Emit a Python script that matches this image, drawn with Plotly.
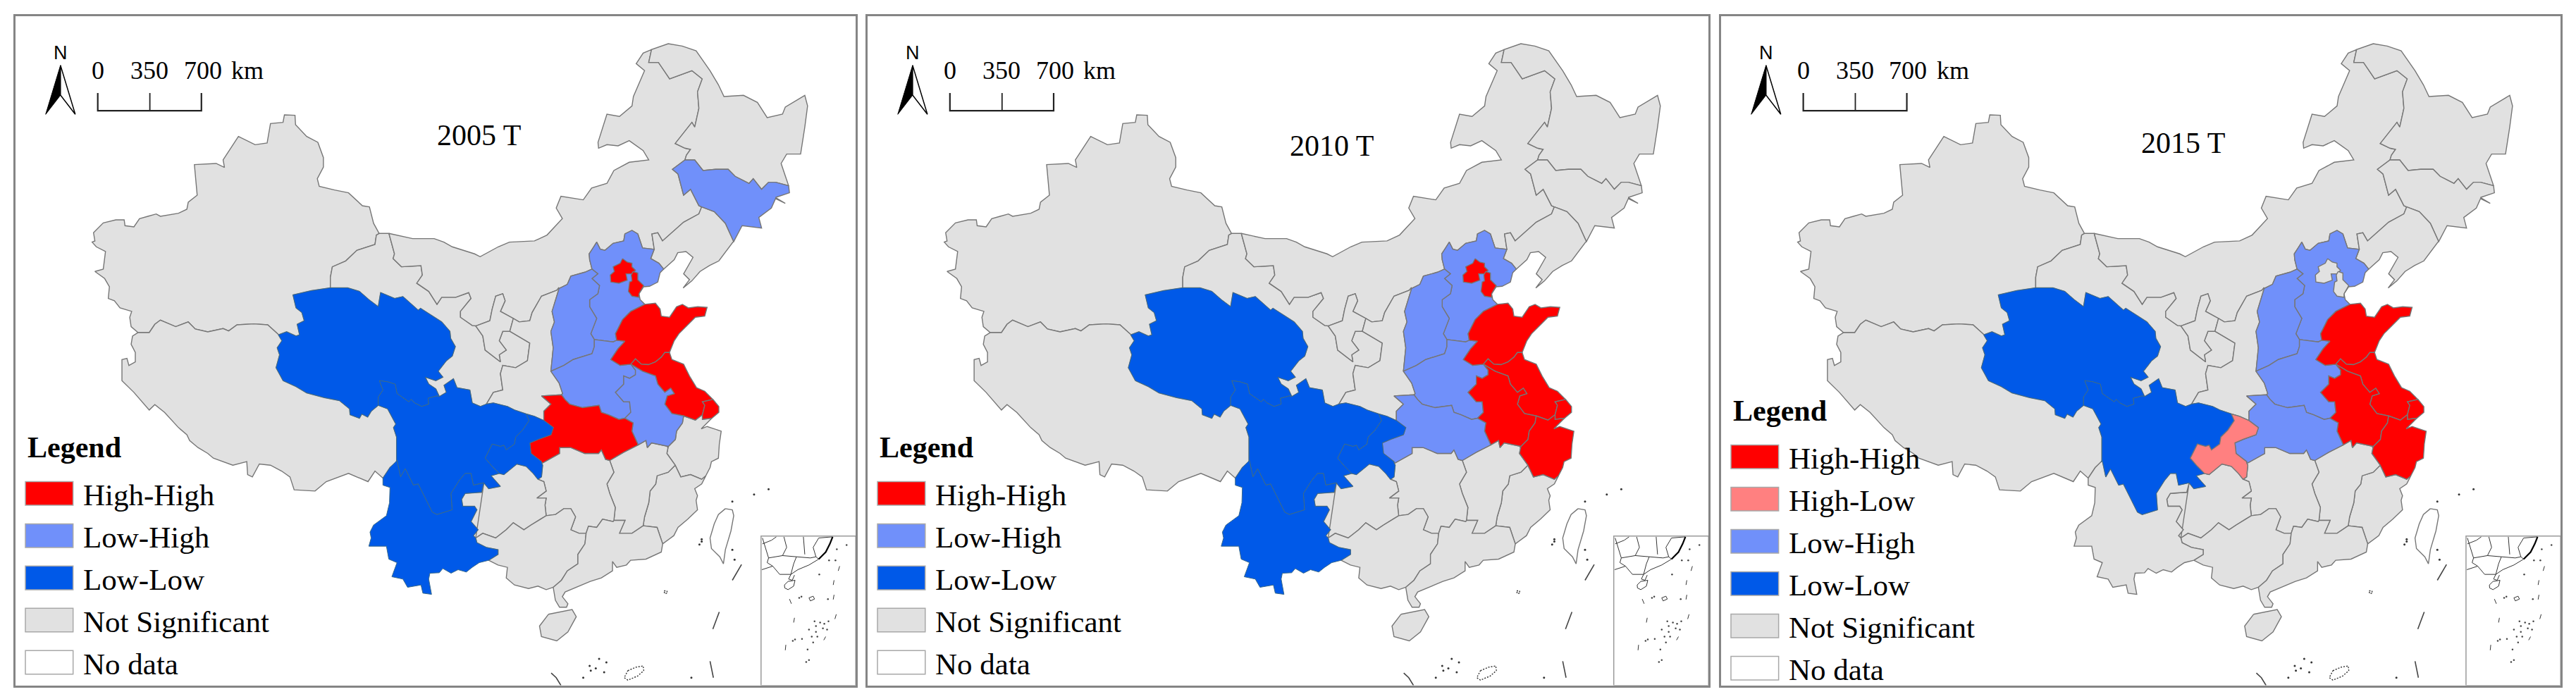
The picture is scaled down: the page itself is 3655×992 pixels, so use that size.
import sys
import plotly.graph_objects as go

W, H = 3655, 992
PANELS = [(22, 1214), (1231, 2424), (2442, 3633)]
TOP, BOTTOM = 22.5, 972.5
YEARS = ["2005 T", "2010 T", "2015 T"]
TITLE_Z = [(873, 303), (873, 326), (871, 321)]
COL = {"HH": "#FF0000", "HL": "#FF8080", "LH": "#7090FA", "LL": "#0059E8", "NS": "#E1E1E1", "ND": "#FFFFFF"}
NAMES = {"HH": "High-High", "HL": "High-Low", "LH": "Low-High", "LL": "Low-Low", "NS": "Not Significant", "ND": "No data"}
EDGE = "#767676"
EDGE_LL = "#3A6A8A"

HH_2005 = ["Beijing", "Tianjin", "Shandong", "Jiangsu", "Shanghai", "Hubei"]
LH_2005 = ["Jilin", "Hebei", "Shanxi", "Henan", "Anhui"]
LL_2005 = ["Qinghai", "Sichuan", "Chongqing", "Yunnan"]
HH_2010 = ["Beijing", "Tianjin", "Shandong", "Jiangsu", "Shanghai", "Anhui", "Zhejiang"]
LH_2010 = ["Hebei", "Shanxi", "Henan", "Hubei"]
LL_2010 = ["Qinghai", "Sichuan", "Chongqing", "Yunnan"]
HH_2015 = ["Shandong", "Jiangsu", "Shanghai", "Anhui", "Zhejiang"]
HL_2015 = ["Chongqing"]
LH_2015 = ["Hebei", "Shanxi", "Henan", "Hubei"]
LL_2015 = ["Qinghai", "Sichuan"]


def _c(ax, bx, ay, by):
    return lambda pts: [(ax + bx * x, ay + by * y) for x, y in pts]


z4 = _c(771.1, .5082, 79.0, .5269)
z5 = _c(771.1, .5082, 790.3, .5269)
z6 = _c(0, .5082, 205.5, .5269)
z7 = _c(0, .5082, 790.3, .5269)
z8 = _c(475.3, .4284, 600.6, .5269)
z9 = _c(616.6, .4284, 980.0, .5269)
z10 = _c(937.9, .4284, 490.0, .5269)

XJ_N = z6([(1360,603),(1340,560),(1325,490),(1300,485),(1250,430),(1200,418),(1145,402),(1138,370),(1160,320),(1160,280),(1140,215),(1100,190),(1060,140),(1058,100),(1020,98),(1015,130),(970,135),(958,218),(915,225),(855,190),(800,290),(805,322),(775,305),(697,310),(707,440),(675,470),(670,500),(640,517),(575,530),(560,520),(530,530),(500,540),(480,575),(448,570),(445,545),(415,545),(370,558),(335,600),(340,635),(330,640),(345,660),(378,680),(370,755),(340,765),(375,795),(392,830),(388,880),(410,890),(430,920),(472,935),(465,960),(470,1000),(495,1025)])
XJ_TB = z6([(495,1025),(535,1025),(555,990),(575,972),(630,1000),(675,980),(700,1010),(745,1022),(800,1008),(820,1018),(850,992),(910,988),(960,992),(1000,1035)])
QH_XJ = z8([(75,285),(110,272),(150,290),(165,285),(155,240),(185,225),(175,190),(150,170),(137,115)])
QH_XJ2 = z8([(137,115),(215,97),(295,85)])
XJ_GS = z6([(1185,838),(1185,790),(1192,745),(1240,720),(1280,675),(1345,650),(1350,610),(1360,603)])
QH_TB = z8([(75,285),(90,310),(70,340),(80,370),(65,425),(95,480),(150,505),(195,532),(270,552),(335,565),(378,600),(380,625),(420,640),(430,622),(455,635),(470,610),(500,585)])
SC_TB = z8([(500,585),(540,600),(575,665),(565,680),(578,720),(578,825)])
TB_YN = z9([(245,105),(220,130),(190,175)])
TB_OUT = z6([(495,1025),(475,1040),(470,1075),(485,1110),(485,1150),(462,1165),(455,1135),(437,1140)]) + z7([(437,120),(480,170),(535,245),(555,222),(590,255),(640,320),(670,350),(680,375),(710,405),(745,430),(765,450),(800,465),(835,480),(885,465),(888,520),(905,530),(930,475),(970,480),(1010,505),(1040,530),(1055,585),(1130,590),(1170,550),(1250,515),(1300,540),(1320,550),(1345,505)]) + z9([(190,175)])
QH_GS = z8([(295,85),(370,85),(420,100),(460,135),(500,165),(510,105),(570,130),(605,122),(670,180),(680,172),(770,230),(805,270),(808,300),(828,335),(815,375),(790,395),(755,440),(775,465),(745,480),(700,465),(715,495),(745,515),(760,548)])
QH_SC = z8([(760,548),(750,545),(712,555),(715,580),(685,590),(655,575),(640,560),(630,570),(580,535),(572,495),(540,485),(505,480),(520,520),(500,550),(500,585)])
SC_GS = z8([(760,548),(790,530),(780,500),(820,472),(835,510),(890,520),(900,575),(935,590),(960,580)])
SC_SN = z8([(960,580),(990,575),(1050,590),(1080,605),(1130,622)])
SC_CQ = z8([(1130,622),(1142,650),(1115,690),(1085,720),(1080,750),(1045,775),(1035,755),(1020,760),(985,750),(955,810),(985,845),(1015,875)])
SC_YN = z9([(245,105),(250,100),(265,170),(285,135),(320,205),(340,200),(400,320),(420,330),(460,318),(485,310),(480,240),(515,185),(540,155),(565,155),(575,205),(620,195)])
SC_GZ = z9([(620,195),(640,220),(690,210),(650,165),(685,155)])
CQ_GZ = z9([(685,155),(705,160),(760,115),(800,125),(830,155),(850,180)])
CQ_HN = z9([(850,180),(865,170),(870,120),(865,110)])
HB_CQ = z8([(1205,650),(1245,680),(1235,710),(1180,730),(1145,745),(1150,790),(1195,825),(1195,830)])
CQ_SN = z8([(1130,622),(1165,632),(1205,650)])
GS_SN = z8([(960,580),(990,530),(1030,520),(1020,450),(1030,415),(1085,425),(1135,395),(1145,320),(1060,270)])
NX_SN = z8([(1060,270),(1075,215)])
SN_IM = z8([(1075,215),(1100,230),(1145,225),(1155,190),(1195,120),(1260,95),(1268,85)])
SX_SN = z10([(190,297),(160,395),(170,440),(155,480),(165,550),(155,650)])
SN_HEN = z10([(155,650),(190,700),(205,745),(200,750)])
SN_HB = z10([(200,750),(115,755),(155,790),(125,820),(125,860)])
NX_GS = z8([(915,247),(945,290),(955,350),(1020,400),(1015,370),(1045,350),(1015,310),(1030,270),(1060,270)])
NX_IM = z8([(915,247),(975,225),(985,175),(1000,120),(1030,110),(1040,140),(1020,185),(1075,215)])
GS_N = z6([(1360,603),(1395,603)])
GS_IM = z6([(1395,603),(1415,690),(1410,710),(1440,745),(1510,740),(1515,780),(1495,815)]) + z8([(715,100),(750,155),(770,125),(830,125),(885,105),(895,130),(850,185),(850,210),(900,245),(915,247)])
SX_IM = z10([(190,297),(225,280),(240,245),(300,228),(330,215)])
HE_IM = z10([(330,215),(320,175),(318,150),(335,125),(350,100),(365,130),(385,135),(420,105),(465,95),(470,65),(500,50),(525,65),(545,125),(590,130),(595,130)])
LN_IM = z10([(595,130),(585,65),(610,60),(630,95),(720,15)]) + z4([(990,760),(1000,730)])
JL_IM = z4([(1000,730),(990,725),(960,655),(935,680),(915,590),(895,570),(940,530)])
HLJ_IM = z4([(940,530),(945,510),(960,485),(940,480),(905,460),(965,370),(975,390),(990,310),(985,240),(1002,185),(965,150),(885,185),(845,115),(810,115),(820,60)])
IM_N = z4([(820,60),(790,75),(765,120),(795,150),(755,260),(750,300),(705,345),(660,335),(628,455),(630,480),(660,465),(700,470),(740,448),(790,490),(810,530),(740,540),(685,575),(660,630),(605,650),(575,700),(495,685),(478,735),(500,780),(445,850),(400,875),(310,880),(270,900),(205,942),(185,930),(105,900),(75,880),(40,865)]) + z6([(1480,625),(1395,603)])
HLJ_OUT = z4([(820,60),(880,35),(930,45),(980,65),(1030,150),(1060,210),(1080,260),(1150,255),(1200,285),(1235,350),(1290,335),(1300,305),(1370,255),(1380,300),(1370,390),(1355,505),(1305,505),(1285,545),(1312,640)])
JL_HLJ = z4([(1312,640),(1265,625),(1240,625),(1215,655),(1185,610),(1170,630),(1120,600),(1095,570),(1050,570),(1005,575),(975,530),(940,530)])
JL_OUT = z4([(1312,640),(1315,670),(1265,690),(1300,715),(1265,695),(1250,735),(1205,775),(1215,820),(1145,810),(1115,878)])
LN_JL = z4([(1000,730),(1045,750),(1085,800),(1115,878)])
LN_COAST = z10([(930,100),(870,180),(830,200),(790,225),(755,265),(718,295),(745,260),(720,235),(760,165),(730,140),(695,145),(680,175),(635,215)])
LN_HE = z10([(595,130),(580,170),(615,190),(635,215)])
HE_COAST = z10([(635,215),(620,230),(610,270),(575,288),(550,290),(530,320),(535,345),(555,365)])
SD_HE = z10([(555,365),(495,395),(460,430),(430,490),(435,518)])
HE_HEN = z10([(435,518),(420,525),(340,515)])
SX_HE = z10([(340,515),(325,490),(350,425),(320,375),(320,345),(355,320),(362,285),(330,255),(355,235),(330,215)])
SX_HEN = z10([(340,515),(340,545),(330,575),(250,600),(210,625),(155,650)])
HEN_SD = z10([(435,518),(470,522),(440,555),(410,600),(450,625),(495,620)])
HEN_AH = z10([(495,620),(515,645),(515,665),(490,680),(465,670),(465,705),(430,740),(465,780),(490,780),(495,825),(470,850)])
HEN_HB = z10([(470,850),(445,855),(400,835),(370,825),(360,795),(290,805),(235,790),(215,770),(200,750)])
SD_COAST = z10([(555,365),(600,360),(620,385),(625,415),(660,420),(690,375),(715,365),(740,380),(780,375),(820,378),(810,415),(770,420),(740,450),(700,490),(680,520),(660,570)])
SD_JS = z10([(660,570),(640,570),(625,590),(600,610),(570,622),(540,620),(515,597),(495,620)])
JS_COAST = z10([(660,570),(670,600),(720,620),(745,670),(775,720),(810,735),(845,770)])
SH_JS = z10([(845,770),(800,780),(810,795),(800,835)])
JS_ZJ = z10([(800,835),(770,858),(720,840)])
JS_AH = z10([(720,840),(670,830),(640,790),(650,755),(680,745),(665,722),(640,740),(610,705),(600,670),(545,650),(495,620)])
SH_OUT = z10([(845,770),(870,800),(870,825),(840,850),(800,855),(800,835)])
AH_ZJ = z10([(720,840),(715,870),(690,905),(685,940),(650,975)])
AH_JX = z5([(880,400),(820,385),(805,405),(800,375),(770,395)])
AH_HB = z10([(525,960),(500,905),(505,870),(470,850)])
ZJ_COAST = z10([(800,835),(800,855),(840,850),(795,895),(820,885),(880,905),(872,960)]) + z5([(1060,450),(1035,465),(1030,490),(1015,525)])
FJ_ZJ = z5([(1015,525),(1000,540),(960,520),(925,530),(905,480)])
JX_ZJ = z5([(905,480),(875,430),(880,400)])
FJ_COAST = z5([(1015,525),(1000,560),(975,580),(985,610),(980,630),(985,670),(950,710),(915,745),(900,780),(860,815)])
FJ_GD = z5([(860,815),(840,745),(790,738)])
FJ_JX = z5([(790,738),(795,700),(810,640),(815,590),(835,560),(840,525),(880,510),(905,480)])
JX_GD = z5([(790,738),(750,770),(705,770),(725,715),(685,715)])
HN_JX = z5([(685,715),(690,660),(670,600),(660,560),(685,510),(670,460)])
JX_HB = z5([(670,460),(720,425),(770,395)])
HN_HB = z5([(670,460),(655,455),(640,415),(630,430),(580,430),(530,405),(490,405),(490,430),(430,470)])
HN_GZ = z9([(850,180),(875,190),(885,230),(845,260),(885,260),(880,290),(885,335)])
HN_GX = z9([(885,335),(925,330),(960,305),(990,305),(1010,340),(990,395),(1025,410),(1055,410)])
HN_GD = z9([(1055,410),(1065,380),(1100,385),(1125,350),(1170,360)])
GZ_GX = z9([(885,335),(860,350),(820,375),(790,395),(745,365),(715,395),(670,430),(615,410),(585,430)])
GZ_YN = z9([(585,430),(575,420),(595,395),(565,360),(590,310),(580,295),(530,295),(525,265),(540,240),(610,235),(620,195)])
GX_GD = z9([(1055,410),(1050,455),(1020,500),(1020,540),(975,570),(950,610),(915,640)])
GX_OUT = z9([(915,640),(885,650),(850,635),(810,645),(750,630),(715,600),(720,555),(680,545),(640,525)])
GX_YN = z9([(640,525),(680,500),(680,480),(630,470),(590,450),(585,430)])
YN_OUT = z9([(190,175),(190,205),(220,215),(218,280),(205,335),(150,375),(135,405),(140,430),(130,465),(205,465),(215,520),(250,535),(228,595),(275,605),(295,640),(352,630),(360,665),(397,670),(385,605),(390,580),(430,578),(445,560),(480,580),(510,565),(545,575),(570,555),(600,535),(640,525)])
GD_COAST = z5([(860,815),(855,850),(800,880),(745,885),(730,905),(695,915),(680,890),(680,930),(640,960),(600,975),(560,995),(510,1020),(500,1040),(520,1070),(515,1085),(490,1085),(475,1055),(470,1010)])
BEIJING_RING = z10([(460,170),(480,185),(500,190),(500,205),(515,220),(500,235),(475,235),(480,262),(445,275),(410,270),(408,240),(425,225),(420,205),(450,190),(460,170)])
TIANJIN_RING = z10([(505,225),(525,232),(525,260),(550,285),(530,320),(530,335),(500,330),(485,310),(490,270),(500,265),(497,240),(505,225)])
HAINAN_RING = z5([(450,1115),(490,1105),(535,1095),(550,1125),(520,1190),(480,1228),(425,1210),(418,1165),(450,1115)])
TAIWAN_RING = z5([(1085,665),(1110,670),(1115,695),(1105,760),(1085,840),(1078,900),(1065,870),(1035,835),(1030,790),(1045,730),(1060,690),(1085,665)])

PROVINCES = {
    "Xinjiang": [XJ_N, XJ_TB, QH_XJ, QH_XJ2, XJ_GS],
    "Tibet": [TB_OUT, TB_YN[::-1], SC_TB[::-1], QH_TB[::-1], XJ_TB[::-1]],
    "Gansu": [GS_N, GS_IM, NX_GS, GS_SN[::-1], SC_GS[::-1], QH_GS[::-1], XJ_GS],
    "Inner Mongolia": [GS_IM, NX_IM, SN_IM, SX_IM, HE_IM, LN_IM, JL_IM, HLJ_IM, IM_N],
    "Ningxia": [NX_IM, NX_SN[::-1], NX_GS[::-1]],
    "Shaanxi": [SN_IM, SX_SN, SN_HEN, SN_HB, CQ_SN[::-1], SC_SN[::-1], GS_SN, NX_SN],
    "Heilongjiang": [HLJ_IM, HLJ_OUT, JL_HLJ],
    "Jilin": [JL_IM, JL_HLJ[::-1], JL_OUT, LN_JL[::-1]],
    "Liaoning": [LN_JL, LN_COAST, LN_HE[::-1], LN_IM],
    "Hebei": [HE_IM, LN_HE, HE_COAST, SD_HE, HE_HEN, SX_HE],
    "Shanxi": [SX_IM, SX_HE[::-1], SX_HEN, SX_SN[::-1]],
    "Henan": [HE_HEN[::-1], HEN_SD, HEN_AH, HEN_HB, SN_HEN[::-1], SX_HEN[::-1]],
    "Shandong": [SD_HE[::-1], SD_COAST, SD_JS, HEN_SD[::-1]],
    "Jiangsu": [SD_JS[::-1], JS_COAST, SH_JS, JS_ZJ, JS_AH],
    "Shanghai": [SH_JS[::-1], SH_OUT],
    "Anhui": [JS_AH[::-1], AH_ZJ, AH_JX, AH_HB, HEN_AH[::-1]],
    "Zhejiang": [JS_ZJ[::-1], ZJ_COAST, FJ_ZJ, JX_ZJ, AH_ZJ[::-1]],
    "Fujian": [FJ_ZJ[::-1], FJ_COAST, FJ_GD, FJ_JX],
    "Jiangxi": [FJ_JX[::-1], JX_GD, HN_JX, JX_HB, AH_JX[::-1], JX_ZJ[::-1]],
    "Hubei": [HEN_HB[::-1], AH_HB[::-1], JX_HB[::-1], HN_HB, HB_CQ[::-1], SN_HB[::-1]],
    "Hunan": [HN_JX, HN_HB, CQ_HN[::-1], HN_GZ, HN_GX, HN_GD],
    "Qinghai": [QH_XJ, QH_XJ2, QH_GS, QH_SC, QH_TB[::-1]],
    "Sichuan": [SC_TB, SC_YN, SC_GZ, SC_CQ[::-1], SC_SN[::-1], SC_GS[::-1], QH_SC],
    "Chongqing": [SC_CQ, CQ_GZ, CQ_HN, HB_CQ[::-1], CQ_SN[::-1]],
    "Guizhou": [SC_GZ, CQ_GZ, HN_GZ, GZ_GX, GZ_YN[::-1]],
    "Guangxi": [GZ_GX[::-1], HN_GX, GX_GD, GX_OUT, GX_YN],
    "Yunnan": [TB_YN, YN_OUT, GX_YN, GZ_YN, SC_YN[::-1]],
    "Guangdong": [HN_GD, JX_GD[::-1], FJ_GD[::-1], GD_COAST, GX_GD[::-1]],
    "Beijing": [BEIJING_RING],
    "Tianjin": [TIANJIN_RING],
    "Hainan": [HAINAN_RING],
}
DRAW_LAST = ["Beijing", "Tianjin"]

NINE_DASH = [z5([(1143,903),(1110,970)]), z5([(1063,1105),(1040,1178)]), z5([(1030,1315),(1042,1385)]), z5([(460,1365),(478,1385),(495,1418)])]
ISLE_RINGS = [z5([(735,1355),(765,1340),(790,1335),(792,1355),(770,1378),(735,1395),(722,1385),(735,1355)]),
              z5([(865,1015),(875,1015),(877,1025),(867,1027),(865,1015)])]
SEA_DOTS = z5([(598,1335),(602,1355),(620,1345),(650,1362),(632,1305),(658,1320),(575,1385),(963,1385),(1000,795),(1000,805),(992,818),(1110,840),(1118,882),(1188,605),(1240,582),(1110,635)])
INSET_BOX = z5([(1213,782),(1553,1418)])
INSET_COAST = z5([(1470,785),(1460,815),(1445,850),(1420,880)])
INSET_LINES = [z5([(1218,790),(1228,830),(1240,875),(1290,865),(1305,830),(1295,785)]),
               z5([(1218,815),(1250,800),(1268,785)]),
               z5([(1240,875),(1235,895),(1255,910),(1216,925)]),
               z5([(1255,910),(1280,945),(1320,945),(1345,925),(1385,905),(1420,880)]),
               z5([(1290,865),(1340,870),(1330,900),(1320,945)]),
               z5([(1340,870),(1390,875),(1410,870),(1420,880)]),
               z5([(1365,785),(1370,860)]),
               z5([(1410,870),(1400,830),(1420,790),(1470,785)]),
               z5([(1320,945),(1312,965),(1325,970),(1333,948)]),
               z5([(1297,990),(1310,975),(1335,970),(1330,995),(1310,1010),(1298,1003),(1297,990)]),
               z5([(1385,1045),(1400,1038),(1405,1050),(1390,1058),(1385,1045)]),
               z5([(1475,970),(1472,990)]), z5([(1475,1032),(1472,1052)]), z5([(1315,1050),(1322,1070)]),
               z5([(1333,1130),(1330,1150)]), z5([(1483,1115),(1478,1135)]), z5([(1445,1210),(1438,1225)]),
               z5([(1302,1245),(1300,1268)]), z5([(1495,910),(1490,930)])]
INSET_DOTS = z5([(1457,885),(1422,945),(1350,1045),(1358,1040),(1453,1050),(1405,1145),(1410,1165),(1425,1150),(1440,1155),(1455,1145),(1435,1175),(1450,1180),(1410,1190),(1385,1180),(1395,1210),(1415,1210),(1360,1220),(1335,1222),(1327,1228),(1380,1265),(1385,1310),(1375,1318),(1400,1235),(1485,838),(1520,820),(1480,885)])
BAR_X = [178, 178, 367, 367]
BAR_Y = [208, 248, 248, 208]
BAR_MID = 273
N_ARROW_LEFT = [(110, 146), (83, 256), (110, 213)]
N_ARROW_RIGHT = [(110, 146), (137, 256), (110, 213)]
SCALE_LABELS = [("0", 178, "center"), ("350", 272, "center"), ("700", 332, "left"), ("km", 419, "left")]
LEGEND_ROWS = [["HH", "LH", "LL", "NS", "ND"], ["HH", "LH", "LL", "NS", "ND"], ["HH", "HL", "LH", "LL", "NS", "ND"]]
LEGEND_TOP = [1080, 1080, 998]
TITLE_LEGEND = [1003, 1003, 921]


def ring(name, parts):
    pts = []
    for part in parts:
        if pts:
            g = abs(pts[-1][0] - part[0][0]) + abs(pts[-1][1] - part[0][1])
            if g > 14:
                print("gap", name, round(g), file=sys.stderr)
        pts += part
    return pts


CLASS_BY_YEAR = [
    {"HH": HH_2005, "LH": LH_2005, "LL": LL_2005},
    {"HH": HH_2010, "LH": LH_2010, "LL": LL_2010},
    {"HH": HH_2015, "HL": HL_2015, "LH": LH_2015, "LL": LL_2015},
]

fig = go.Figure()
layout = dict(width=W, height=H, margin=dict(l=0, r=0, t=0, b=0), autosize=False, showlegend=False,
              paper_bgcolor="white", plot_bgcolor="white", annotations=[], shapes=[], hovermode="closest")


def serif(size, bold=False):
    return dict(family="Liberation Serif", size=size, color="black", weight="bold" if bold else "normal")


for p, (x0, x1) in enumerate(PANELS):
    sfx = "" if p == 0 else str(p + 1)
    xa, ya = "x" + sfx, "y" + sfx
    base = dict(showgrid=False, zeroline=False, showticklabels=False, ticks="", showline=True, mirror=True,
                linecolor="#858585", linewidth=2.5, fixedrange=True)
    layout["xaxis" + sfx] = dict(base, domain=[x0 / W, x1 / W], range=[28, 1560], anchor=ya)
    layout["yaxis" + sfx] = dict(base, domain=[1 - BOTTOM / H, 1 - TOP / H], range=[1537, 35], anchor=xa)
    cls = {}
    for k, names in CLASS_BY_YEAR[p].items():
        for n in names:
            cls[n] = k
    rest = [n for n in PROVINCES if n not in DRAW_LAST]
    order = [n for n in rest if n not in cls] + [n for n in rest if n in cls] + DRAW_LAST
    for n in order:
        pts = ring(n, PROVINCES[n])
        k = cls.get(n, "NS")
        line = dict(color=EDGE_LL, width=1.0) if k == "LL" else dict(color=EDGE, width=1.4)
        fig.add_trace(go.Scatter(x=[q[0] for q in pts], y=[q[1] for q in pts], mode="lines", fill="toself",
                                 fillcolor=COL[k], line=line, name=n, xaxis=xa, yaxis=ya, hoverinfo="name"))
    fig.add_trace(go.Scatter(x=[q[0] for q in TAIWAN_RING], y=[q[1] for q in TAIWAN_RING], mode="lines",
                             line=dict(color=EDGE, width=1.4), name="Taiwan", xaxis=xa, yaxis=ya, hoverinfo="name"))
    for seg in NINE_DASH:
        fig.add_trace(go.Scatter(x=[q[0] for q in seg], y=[q[1] for q in seg], mode="lines",
                                 line=dict(color="#444444", width=1.6), xaxis=xa, yaxis=ya, hoverinfo="skip"))
    for seg in ISLE_RINGS:
        fig.add_trace(go.Scatter(x=[q[0] for q in seg], y=[q[1] for q in seg], mode="lines",
                                 line=dict(color="#333333", width=1.4, dash="2px,2px"), xaxis=xa, yaxis=ya, hoverinfo="skip"))
    fig.add_trace(go.Scatter(x=[q[0] for q in SEA_DOTS], y=[q[1] for q in SEA_DOTS], mode="markers",
                             marker=dict(color="#333333", size=3), xaxis=xa, yaxis=ya, hoverinfo="skip"))
    for seg in INSET_LINES:
        fig.add_trace(go.Scatter(x=[q[0] for q in seg], y=[q[1] for q in seg], mode="lines",
                                 line=dict(color="#333333", width=1.0), xaxis=xa, yaxis=ya, hoverinfo="skip"))
    fig.add_trace(go.Scatter(x=[q[0] for q in INSET_COAST], y=[q[1] for q in INSET_COAST], mode="lines",
                             line=dict(color="black", width=2.2), xaxis=xa, yaxis=ya, hoverinfo="skip"))
    fig.add_trace(go.Scatter(x=[q[0] for q in INSET_DOTS], y=[q[1] for q in INSET_DOTS], mode="markers",
                             marker=dict(color="#444444", size=2.5), xaxis=xa, yaxis=ya, hoverinfo="skip"))
    fig.add_trace(go.Scatter(x=BAR_X, y=BAR_Y, mode="lines", line=dict(color="#222222", width=2.2), xaxis=xa, yaxis=ya, hoverinfo="skip"))
    fig.add_trace(go.Scatter(x=[BAR_MID, BAR_MID], y=[BAR_Y[0], BAR_Y[1]], mode="lines", line=dict(color="#222222", width=1.8), xaxis=xa, yaxis=ya, hoverinfo="skip"))
    fig.add_trace(go.Scatter(x=[q[0] for q in N_ARROW_LEFT + N_ARROW_LEFT[:1]], y=[q[1] for q in N_ARROW_LEFT + N_ARROW_LEFT[:1]], mode="lines", fill="toself", fillcolor="black", line=dict(color="black", width=1), xaxis=xa, yaxis=ya, hoverinfo="skip"))
    fig.add_trace(go.Scatter(x=[q[0] for q in N_ARROW_RIGHT + N_ARROW_RIGHT[:1]], y=[q[1] for q in N_ARROW_RIGHT + N_ARROW_RIGHT[:1]], mode="lines", fill="toself", fillcolor="white", line=dict(color="black", width=1.5), xaxis=xa, yaxis=ya, hoverinfo="skip"))
    layout["shapes"].append(dict(type="rect", xref=xa, yref=ya, x0=INSET_BOX[0][0], y0=INSET_BOX[0][1], x1=INSET_BOX[1][0], y1=INSET_BOX[1][1],
                                 line=dict(color="#9A9A9A", width=1.5), fillcolor="rgba(0,0,0,0)"))
    for i, key in enumerate(LEGEND_ROWS[p]):
        yt = LEGEND_TOP[p] + i * 94.8
        layout["shapes"].append(dict(type="rect", xref=xa, yref=ya, x0=46, x1=133, y0=yt, y1=yt + 53, fillcolor=COL[key],
                                     line=dict(color="#A8A8A8", width=1.5), layer="above"))
        layout["annotations"].append(dict(xref=xa, yref=ya, x=149, y=yt + 30, text=NAMES[key], showarrow=False, xanchor="left", yanchor="middle", font=serif(43)))
    layout["annotations"].append(dict(xref=xa, yref=ya, x=47, y=TITLE_LEGEND[p], text="<b>Legend</b>", showarrow=False, xanchor="left", yanchor="middle", font=serif(42)))
    layout["annotations"].append(dict(xref=xa, yref=ya, x=TITLE_Z[p][0], y=TITLE_Z[p][1], text=YEARS[p], showarrow=False, xanchor="center", yanchor="middle", font=serif(42)))
    for txt, xx, anchor in SCALE_LABELS:
        layout["annotations"].append(dict(xref=xa, yref=ya, x=xx, y=157, text=txt, showarrow=False, xanchor=anchor, yanchor="middle", font=serif(36)))
    layout["annotations"].append(dict(xref=xa, yref=ya, x=110, y=118, text="N", showarrow=False, xanchor="center", yanchor="middle", font=dict(family="Liberation Sans", size=27, color="black")))

fig.update_layout(**layout)
fig.write_html("out.html", post_script="document.body.style.margin='0';", config={"displayModeBar": False})
